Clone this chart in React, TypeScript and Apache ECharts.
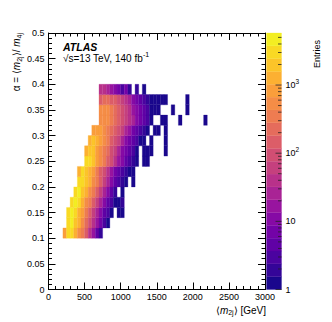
import React, { useEffect, useRef } from "react";
import * as echarts from "echarts";

// ---- data ----
const xBinWidth = 50; // GeV
const yBinWidth = 0.02;
const rowYLows = [0.1, 0.12, 0.14, 0.16, 0.18, 0.2, 0.22, 0.24, 0.26, 0.28, 0.3, 0.32, 0.34, 0.36, 0.38];
const rowXStarts = [200, 250, 250, 300, 350, 400, 400, 500, 500, 550, 600, 700, 700, 700, 700];
const rowEntries: number[][] = [
  [800, 3700, 2500, 1300, 600, 280, 120, 45, 15, 5, 2],
  [3200, 3800, 2200, 1100, 500, 220, 100, 40, 15, 6, 3, 1.5],
  [3000, 4200, 2800, 1500, 700, 330, 150, 60, 25, 10, 5, 2.5, 1.5, 0, 1, 1],
  [3500, 4000, 2500, 1300, 650, 320, 150, 65, 28, 12, 5, 2.5, 1.5, 1, 2],
  [3500, 3800, 2300, 1200, 600, 300, 140, 60, 25, 10, 4, 2, 0, 1],
  [3000, 3500, 2000, 1100, 550, 280, 130, 60, 25, 10, 5, 2.5, 2, 1, 0, 1],
  [1500, 3300, 2200, 1300, 700, 350, 170, 80, 35, 16, 8, 4, 3, 2, 1.5, 1],
  [2500, 2800, 1700, 1000, 550, 300, 160, 80, 38, 18, 9, 5, 3, 2, 1, 0, 1, 1],
  [1200, 2400, 1600, 1000, 600, 340, 190, 100, 50, 25, 12, 6, 4, 2.5, 1.5, 0, 1, 1, 1, 0, 0, 0, 1],
  [1200, 1800, 1200, 800, 500, 300, 170, 95, 50, 25, 13, 7, 4, 2.5, 1.5, 1, 0, 1, 0, 0, 0, 1],
  [700, 1000, 800, 550, 380, 250, 150, 90, 50, 28, 15, 8, 5, 3, 2, 1, 0, 1, 1, 0, 1],
  [500, 650, 500, 380, 260, 170, 110, 70, 40, 22, 12, 7, 4, 2.5, 1.5, 0, 0, 1, 1, 0, 0, 0, 1, 0, 0, 0, 0, 0, 0, 1],
  [450, 550, 450, 330, 230, 150, 95, 60, 35, 20, 11, 6, 4, 2.5, 1.5, 1, 1, 0, 0, 0, 1, 0, 0, 0, 1],
  [180, 230, 200, 160, 120, 85, 55, 35, 22, 13, 8, 5, 3, 2, 1.5, 1, 1, 1, 1, 0, 0, 0, 0, 0, 1],
  [35, 40, 25, 15, 10, 6, 3, 6, 2, 0, 2, 0, 1],
];
const xMin = 0, xMax = 3000, xStep = 500;
const yMin = 0, yMax = 0.5, yStep = 0.05;
const zMin = 1, zMax = 5800, zLevels = 20;
const colorbarMajor = [1, 10, 100, 1000];
const colorbarMinor = [2, 3, 4, 5, 6, 7, 8, 9, 20, 30, 40, 50, 60, 70, 80, 90, 200, 300, 400, 500, 600, 700, 800, 900, 2000, 3000, 4000, 5000];
const plasmaStops = ["#0d0887", "#41049d", "#6a00a8", "#8f0da4", "#b12a90", "#cc4778", "#e16462", "#f2844b", "#fca636", "#fcce25", "#f0f921"];

const FONT = "'Liberation Sans', Arial, Helvetica, sans-serif";

function hexToRgb(h: string) {
  return [parseInt(h.slice(1, 3), 16), parseInt(h.slice(3, 5), 16), parseInt(h.slice(5, 7), 16)];
}
function plasma(t: number) {
  const n = plasmaStops.length - 1;
  const s = Math.min(Math.max(t, 0), 1) * n;
  const i = Math.min(Math.floor(s), n - 1);
  const f = s - i;
  const a = hexToRgb(plasmaStops[i]);
  const b = hexToRgb(plasmaStops[i + 1]);
  const c = a.map((v, k) => Math.round(v + (b[k] - v) * f));
  return `rgb(${c[0]},${c[1]},${c[2]})`;
}

export default function App() {
  const ref = useRef<HTMLDivElement>(null);
  useEffect(() => {
    if (!ref.current) return;
    const chart = echarts.init(ref.current, undefined, { renderer: "svg" });

    const L = Math.log10(zMax / zMin);
    const bandColors: string[] = [];
    const pieces: any[] = [];
    const bands: number[][] = [];
    for (let k = 0; k < zLevels; k++) {
      const lo = (k * L) / zLevels;
      const hi = ((k + 1) * L) / zLevels;
      const col = plasma((k + 0.5) / zLevels);
      bandColors.push(col);
      bands.push([lo, hi, k]);
      const p: any = { gte: zMin * Math.pow(10, lo), color: col };
      if (k < zLevels - 1) p.lt = zMin * Math.pow(10, hi);
      pieces.push(p);
    }

    const cells: number[][] = [];
    rowEntries.forEach((row, r) => {
      row.forEach((v, j) => {
        if (v > 0) cells.push([rowXStarts[r] + j * xBinWidth, rowYLows[r], v]);
      });
    });

    const ticks: number[][] = [];
    colorbarMajor.forEach((v) => ticks.push([Math.log10(v / zMin), 6]));
    colorbarMinor.forEach((v) => {
      if (v < zMax) ticks.push([Math.log10(v / zMin), 3.5]);
    });

    const tickStyle = { color: "#000", width: 1 };
    const mainX = (position: string, labels: boolean) => ({
      gridIndex: 0,
      type: "value",
      position,
      min: xMin,
      max: xMax,
      interval: xStep,
      axisLine: { show: true, onZero: false, lineStyle: tickStyle },
      axisTick: { show: true, inside: true, length: 7, lineStyle: tickStyle },
      minorTick: { show: true, splitNumber: 5, length: 3.5, lineStyle: tickStyle },
      axisLabel: {
        show: labels,
        color: "#000",
        fontSize: 9,
        fontFamily: FONT,
        margin: 3,
        formatter: (v: number) => String(v),
      },
      splitLine: { show: false },
    });
    const mainY = (position: string, labels: boolean) => ({
      gridIndex: 0,
      type: "value",
      position,
      min: yMin,
      max: yMax,
      interval: yStep,
      axisLine: { show: true, onZero: false, lineStyle: tickStyle },
      axisTick: { show: true, inside: true, length: 7, lineStyle: tickStyle },
      minorTick: { show: true, splitNumber: 5, length: 3.5, lineStyle: tickStyle },
      axisLabel: {
        show: labels,
        color: "#000",
        fontSize: 9,
        fontFamily: FONT,
        margin: 4,
        formatter: (v: number) => String(+v.toFixed(2)),
      },
      splitLine: { show: false },
    });

    const option: any = {
      animation: false,
      backgroundColor: "#fff",
      grid: [
        { left: 48.5, top: 33, width: 216.5, height: 256.5 },
        { left: 266.5, top: 33, width: 15, height: 256.5 },
      ],
      xAxis: [
        mainX("bottom", true),
        mainX("top", false),
        { gridIndex: 1, type: "value", min: 0, max: 1, show: false },
      ],
      yAxis: [
        mainY("left", true),
        mainY("right", false),
        {
          gridIndex: 1,
          type: "value",
          position: "right",
          min: 0,
          max: L,
          interval: 1,
          axisLine: { show: false },
          axisTick: { show: false },
          splitLine: { show: false },
          axisLabel: {
            show: true,
            color: "#000",
            fontSize: 9,
            fontFamily: FONT,
            margin: 4,
            lineHeight: 14,
            showMaxLabel: false,
            formatter: (v: number) => {
              const e = Math.round(v);
              if (Math.abs(v - e) > 1e-6) return "";
              const val = zMin * Math.pow(10, e);
              if (val === 1) return "1";
              if (val === 10) return "10";
              return "10{sup|" + e + "}";
            },
            rich: {
              sup: { fontSize: 6.5, fontFamily: FONT, color: "#000", lineHeight: 6, verticalAlign: "top" },
            },
          },
        },
      ],
      visualMap: {
        type: "piecewise",
        show: false,
        seriesIndex: 0,
        dimension: 2,
        pieces,
      },
      series: [
        {
          type: "custom",
          xAxisIndex: 0,
          yAxisIndex: 0,
          clip: true,
          data: cells,
          encode: { x: 0, y: 1 },
          renderItem: (params: any, api: any) => {
            const x0 = api.value(0);
            const y0 = api.value(1);
            const p1 = api.coord([x0, y0 + yBinWidth]);
            const p2 = api.coord([x0 + xBinWidth, y0]);
            const c = api.visual("color");
            return {
              type: "rect",
              shape: { x: p1[0], y: p1[1], width: p2[0] - p1[0], height: p2[1] - p1[1] },
              style: { fill: c, stroke: c, lineWidth: 0.3 },
            };
          },
        },
        {
          type: "custom",
          xAxisIndex: 2,
          yAxisIndex: 2,
          data: bands,
          renderItem: (params: any, api: any) => {
            const lo = api.value(0);
            const hi = api.value(1);
            const k = api.value(2);
            const p1 = api.coord([0, hi]);
            const p2 = api.coord([1, lo]);
            return {
              type: "rect",
              shape: { x: p1[0], y: p1[1], width: p2[0] - p1[0], height: p2[1] - p1[1] },
              style: { fill: bandColors[k], stroke: bandColors[k], lineWidth: 0.3 },
            };
          },
        },
        {
          type: "custom",
          xAxisIndex: 2,
          yAxisIndex: 2,
          z: 5,
          data: ticks,
          renderItem: (params: any, api: any) => {
            const p = api.coord([1, api.value(0)]);
            const len = api.value(1);
            return {
              type: "line",
              shape: { x1: p[0], y1: p[1], x2: p[0] - len, y2: p[1] },
              style: { stroke: "#222", lineWidth: 0.8 },
            };
          },
        },
      ],
      graphic: [
        {
          type: "text",
          x: 63,
          y: 47,
          style: {
            text: "ATLAS",
            fontSize: 10.5,
            fontWeight: "bold",
            fontStyle: "italic",
            fontFamily: FONT,
            fill: "#000",
            align: "left",
            verticalAlign: "middle",
          },
        },
        {
          type: "text",
          x: 63,
          y: 58,
          style: {
            text: "√s=13 TeV, 140 fb{sup|-1}",
            fontSize: 10,
            fontFamily: FONT,
            fill: "#000",
            align: "left",
            verticalAlign: "middle",
            lineHeight: 14,
            rich: {
              sup: { fontSize: 7, fontFamily: FONT, fill: "#000", lineHeight: 6, verticalAlign: "top" },
            },
          },
        },
        {
          type: "text",
          x: 16,
          y: 33,
          rotation: Math.PI / 2,
          style: {
            text: "α = ⟨{i|m}{sub|2j}⟩/ {i|m}{sub|4j}",
            fontSize: 10,
            fontFamily: FONT,
            fill: "#000",
            align: "right",
            verticalAlign: "middle",
            lineHeight: 14,
            rich: {
              i: { fontSize: 10, fontStyle: "italic", fontFamily: FONT, fill: "#000", lineHeight: 14 },
              sub: { fontSize: 7, fontFamily: FONT, fill: "#000", lineHeight: 6, verticalAlign: "bottom" },
            },
          },
        },
        {
          type: "text",
          x: 266,
          y: 310,
          style: {
            text: "⟨{i|m}{sub|2j}⟩ [GeV]",
            fontSize: 10,
            fontFamily: FONT,
            fill: "#000",
            align: "right",
            verticalAlign: "middle",
            lineHeight: 11,
            rich: {
              i: { fontSize: 10, fontStyle: "italic", fontFamily: FONT, fill: "#000", lineHeight: 11 },
              sub: { fontSize: 7, fontFamily: FONT, fill: "#000", lineHeight: 6, verticalAlign: "bottom" },
            },
          },
        },
        {
          type: "text",
          x: 317,
          y: 40,
          rotation: Math.PI / 2,
          style: {
            text: "Entries",
            fontSize: 9,
            fontFamily: FONT,
            fill: "#000",
            align: "right",
            verticalAlign: "middle",
          },
        },
      ],
    };

    chart.setOption(option);
    return () => chart.dispose();
  }, []);

  return (
    <div
      ref={ref}
      style={{ position: "fixed", left: 0, top: 0, width: 332, height: 322, background: "#fff" }}
    />
  );
}
